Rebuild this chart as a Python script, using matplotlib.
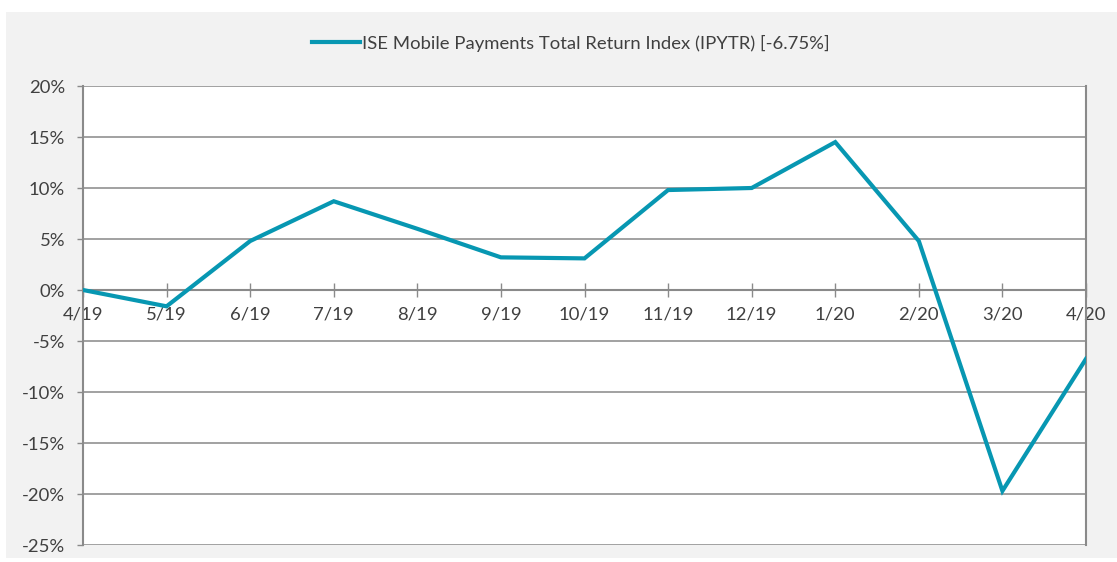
import matplotlib
matplotlib.use("Agg")
import matplotlib.pyplot as plt
from matplotlib.patches import Rectangle
from matplotlib.ticker import FuncFormatter

months = ["4/19", "5/19", "6/19", "7/19", "8/19", "9/19", "10/19",
          "11/19", "12/19", "1/20", "2/20", "3/20", "4/20"]
returns = [0.0, -1.6, 4.8, 8.7, 6.0, 3.2, 3.1, 9.8, 10.0, 14.5, 4.8, -19.7, -6.75]
series_label = "ISE Mobile Payments Total Return Index (IPYTR) [-6.75%]"
yticks = [20, 15, 10, 5, 0, -5, -10, -15, -20, -25]

plt.rcParams['font.family'] = ['Lato', 'DejaVu Sans']
text_color = '#404040'
line_color = '#0797B2'
grid_color = '#9a9a9a'
fs = 13.3

W, H = 1117, 562
fig = plt.figure(figsize=(W / 100, H / 100), dpi=100, facecolor='white')
fig.patches.append(Rectangle((6 / W, 1 - 558 / H), (W - 6) / W, (558 - 12) / H,
                             transform=fig.transFigure, facecolor='#f2f2f2',
                             edgecolor='none', zorder=-10))

ax = fig.add_axes([83 / W, 1 - 545 / H, (1086 - 83) / W, (545 - 86) / H])
ax.set_facecolor('white')

x = list(range(len(months)))
line, = ax.plot(x, returns, color=line_color, lw=3.0, solid_joinstyle='miter',
                label=series_label, zorder=5)

ax.set_xlim(0, len(months) - 1)
ax.set_ylim(-25, 20)
ax.set_yticks(yticks)
ax.yaxis.set_major_formatter(FuncFormatter(lambda v, p: f"{int(v)}%"))
ax.set_xticks(x)
ax.set_xticklabels(months)

for y in yticks:
    ax.axhline(y, color=grid_color, lw=1.3, zorder=1)

ax.spines['top'].set_visible(False)
ax.spines['bottom'].set_position(('data', 0))
for s in ['left', 'right', 'bottom']:
    ax.spines[s].set_color('#8a8a8a')
    ax.spines[s].set_linewidth(1.5)
ax.spines['bottom'].set_zorder(2)

ax.tick_params(axis='x', direction='inout', length=9.4, width=1, color='#8a8a8a',
               pad=7.0, labelsize=fs, labelcolor=text_color)
ax.tick_params(axis='y', direction='out', length=4.3, width=1, color='#8a8a8a',
               pad=8.6, labelsize=fs, labelcolor=text_color)

leg = fig.legend(handles=[line], loc='center', bbox_to_anchor=(571 / W, 1 - 43 / H),
                 frameon=False, fontsize=fs, handlelength=2.6, handletextpad=0.1)
for t in leg.get_texts():
    t.set_color(text_color)

fig.savefig("out.png", dpi=100, facecolor='white')
